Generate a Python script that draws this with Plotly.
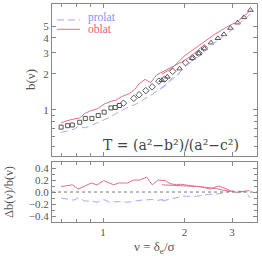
import plotly.graph_objects as go
from plotly.subplots import make_subplots

# ---- data ----
sq_x = [0.70, 0.74, 0.77, 0.82, 0.86, 0.91, 0.96, 1.01, 1.07, 1.11, 1.15]
sq_y = [0.72, 0.74, 0.75, 0.79, 0.85, 0.85, 0.90, 0.96, 1.04, 1.05, 1.09]

dm_x = [1.19, 1.30, 1.36, 1.44, 1.52, 1.61, 1.69, 1.81, 2.02, 2.14, 2.26, 2.37]
dm_y = [1.14, 1.25, 1.34, 1.45, 1.56, 1.74, 1.81, 2.10, 2.48, 2.73, 2.97, 3.29]

tr_x = [1.65, 1.73, 1.92, 2.14, 2.26, 2.37, 2.51, 2.66, 2.80, 2.96, 3.14, 3.32, 3.51]
tr_y = [1.77, 1.89, 2.21, 2.70, 2.95, 3.25, 3.64, 3.96, 4.27, 4.82, 5.34, 5.92, 6.81]

ob_a_x = [0.70, 0.73, 0.78, 0.82, 0.86, 0.90, 0.95, 1.01, 1.08, 1.12, 1.17, 1.25, 1.31,
          1.36, 1.43, 1.50, 1.58, 1.70, 1.81, 1.95, 2.10, 2.26, 2.37]
ob_a_y = [0.78, 0.81, 0.84, 0.86, 0.94, 0.985, 1.02, 1.12, 1.19, 1.21, 1.29, 1.37, 1.48,
          1.65, 1.80, 1.69, 1.96, 2.13, 2.30, 2.51, 2.77, 3.22, 3.50]
ob_b_x = [1.65, 1.79, 2.00, 2.12, 2.34, 2.58, 2.86, 3.16, 3.51]
ob_b_y = [1.99, 2.21, 2.82, 3.10, 3.62, 4.25, 4.90, 5.50, 6.75]

pr_a_x = [0.70, 0.74, 0.78, 0.81, 0.86, 0.90, 0.95, 1.00, 1.06, 1.12, 1.21, 1.30, 1.37,
          1.44, 1.52, 1.61, 1.69, 1.81, 1.92]
pr_a_y = [0.65, 0.67, 0.69, 0.73, 0.71, 0.74, 0.78, 0.82, 0.87, 0.935, 1.03, 1.10, 1.16,
          1.26, 1.35, 1.48, 1.57, 1.86, 2.02]
pr_b_x = [1.64, 1.84, 2.03, 2.24, 2.47, 2.73, 2.98, 3.24, 3.51]
pr_b_y = [1.52, 1.87, 2.33, 2.76, 3.38, 3.98, 4.60, 5.40, 6.30]

dr_a_x = [0.70, 0.77, 0.81, 0.86, 0.905, 0.95, 1.006, 1.095, 1.14, 1.23, 1.30, 1.37, 1.45,
          1.52, 1.58, 1.60, 1.70, 1.77, 1.875, 1.93, 2.16, 2.42, 2.60, 2.75, 2.95]
dr_a_y = [0.09, 0.12, 0.05, 0.10, 0.15, 0.12, 0.19, 0.12, 0.15, 0.15, 0.20, 0.20, 0.25,
          0.12, 0.18, 0.20, 0.19, 0.14, 0.12, 0.13, 0.10, 0.08, 0.06, 0.035, 0.01]
dr_b_x = [1.65, 1.98, 2.29, 2.49, 2.67, 2.83, 2.99, 3.13, 3.31, 3.48]
dr_b_y = [0.12, 0.10, 0.09, 0.05, 0.10, 0.06, 0.01, -0.005, 0.01, 0.025]

dp_a_x = [0.70, 0.746, 0.78, 0.81, 0.86, 0.905, 0.95, 1.006, 1.06, 1.14, 1.23, 1.32, 1.39,
          1.52, 1.58, 1.67]
dp_a_y = [-0.10, -0.115, -0.135, -0.10, -0.15, -0.15, -0.17, -0.125, -0.17, -0.16, -0.17,
          -0.15, -0.135, -0.125, -0.14, -0.125]
dp_b_x = [1.65, 1.77, 1.98, 2.22, 2.45, 2.64, 2.83, 3.04, 3.26, 3.40, 3.50]
dp_b_y = [-0.15, -0.115, -0.07, -0.07, -0.04, -0.035, -0.01, 0.025, 0.01, -0.02, -0.10]

legend_names = ["prolat", "oblat"]

x_tickvals = [1, 2, 3]
x_minor = [0.7, 0.8, 0.9]
y_tickvals = [1, 2, 3, 4, 5]
y_minor = [0.5, 0.6, 0.7, 0.8, 0.9]
y2_tickvals = [-0.4, -0.2, 0.0, 0.2, 0.4]
y2_ticktext = ["\u22120.4", "\u22120.2", "0.0", "0.2", "0.4"]

RED = "#e0708a"
BLUE = "#a8a8ff"
RED_T = "#e0607e"
BLUE_T = "#8c8cff"
DASH = "7px,4px"
MK = "#555555"
AX = "#888888"
TXT = "#555555"
FONT = "Liberation Serif"

fig = make_subplots(rows=2, cols=1, shared_xaxes=True, vertical_spacing=0.0,
                    row_heights=[0.72, 0.28])

fig.add_trace(go.Scatter(x=sq_x, y=sq_y, mode="markers",
                         marker=dict(symbol="square-open", size=4, color=MK, line=dict(width=1))),
              row=1, col=1)
fig.add_trace(go.Scatter(x=dm_x, y=dm_y, mode="markers",
                         marker=dict(symbol="diamond-open", size=5, color=MK, line=dict(width=1))),
              row=1, col=1)
fig.add_trace(go.Scatter(x=tr_x, y=tr_y, mode="markers",
                         marker=dict(symbol="triangle-up-open", size=5, color=MK, line=dict(width=1))),
              row=1, col=1)

for xs, ys in [(pr_a_x, pr_a_y), (pr_b_x, pr_b_y)]:
    fig.add_trace(go.Scatter(x=xs, y=ys, mode="lines", name=legend_names[0],
                             line=dict(color=BLUE, width=1, dash=DASH)), row=1, col=1)
for xs, ys in [(ob_a_x, ob_a_y), (ob_b_x, ob_b_y)]:
    fig.add_trace(go.Scatter(x=xs, y=ys, mode="lines", name=legend_names[1],
                             line=dict(color=RED, width=1)), row=1, col=1)
for xs, ys in [(dp_a_x, dp_a_y), (dp_b_x, dp_b_y)]:
    fig.add_trace(go.Scatter(x=xs, y=ys, mode="lines",
                             line=dict(color=BLUE, width=1, dash=DASH)), row=2, col=1)
for xs, ys in [(dr_a_x, dr_a_y), (dr_b_x, dr_b_y)]:
    fig.add_trace(go.Scatter(x=xs, y=ys, mode="lines",
                             line=dict(color=RED, width=1)), row=2, col=1)

fig.add_hline(y=0, line=dict(color="#777777", width=1, dash="dot"), row=2, col=1)

common = dict(showline=True, linecolor=AX, linewidth=1, mirror="allticks", ticks="inside",
              ticklen=4, tickcolor=AX, showgrid=False, zeroline=False, automargin=False,
              tickfont=dict(family=FONT, size=11, color=TXT))

xr = [-0.1886, 0.5695]
fig.update_xaxes(type="log", range=xr, tickvals=x_tickvals, ticktext=["1", "2", "3"],
                 minor=dict(tickvals=x_minor, ticklen=3, tickcolor=AX, ticks="inside"),
                 **common)
fig.update_xaxes(showticklabels=False, row=1, col=1)

fig.update_yaxes(type="log", range=[-0.3833, 0.8833], tickvals=y_tickvals,
                 ticktext=["1", "2", "3", "4", "5"],
                 minor=dict(tickvals=y_minor, ticklen=3, tickcolor=AX, ticks="inside"),
                 row=1, col=1, **common)
fig.update_yaxes(range=[-0.5, 0.5], tickvals=y2_tickvals, ticktext=y2_ticktext,
                 minor=dict(dtick=0.1, ticklen=3, tickcolor=AX, ticks="inside"),
                 row=2, col=1, **common)

fig.update_layout(
    width=262, height=262,
    margin=dict(l=52, r=5, t=4, b=40),
    plot_bgcolor="white", paper_bgcolor="white",
    font=dict(family=FONT, size=11, color=TXT),
    showlegend=False,
    hovermode=False,
    yaxis=dict(domain=[0.3028, 1.0]),
    yaxis2=dict(domain=[0.0, 0.275]),
)

# legend (drawn as keys + labels in paper space)
for (ly, ty, col, tcol, dash, name) in [(0.927, 0.938, BLUE, BLUE_T, DASH, legend_names[0]),
                                         (0.884, 0.886, RED, RED_T, "solid", legend_names[1])]:
    fig.add_shape(type="line", xref="paper", yref="paper", x0=0.0244, x1=0.1366, y0=ly, y1=ly,
                  line=dict(color=col, width=1, dash=dash))
    fig.add_annotation(text=name, xref="paper", yref="paper", x=0.1659, y=ty, xanchor="left",
                       yanchor="middle", showarrow=False,
                       font=dict(family=FONT, size=11.5, color=tcol))

# axis titles
fig.add_annotation(text="b(\u03bd)", xref="paper", yref="paper", x=0, y=0.651,
                   xshift=-22, textangle=-90, showarrow=False, xanchor="center", yanchor="middle",
                   font=dict(family=FONT, size=13, color=TXT))
fig.add_annotation(text="\u0394b(\u03bd)/b(\u03bd)", xref="paper", yref="paper", x=0, y=0.1376,
                   xshift=-43, textangle=-90, showarrow=False, xanchor="center", yanchor="middle",
                   font=dict(family=FONT, size=12.5, color=TXT))
fig.add_annotation(text="\u03bd = \u03b4<sub>e</sub>/\u03c3", xref="paper", yref="paper", x=0.5,
                   y=-0.119, showarrow=False, xanchor="center", yanchor="middle",
                   font=dict(family=FONT, size=13, color=TXT))

fig.add_annotation(text="T = (a\u00b2\u2212b\u00b2)/(a\u00b2\u2212c\u00b2)", xref="x domain", yref="y domain",
                   x=0.58, y=0.07, xanchor="center", yanchor="middle", showarrow=False,
                   font=dict(family="DejaVu Serif", size=14, color="#444444"))

fig.write_html("out.html", config={"displayModeBar": False},
               post_script="document.body.style.margin='0';document.body.style.overflow='hidden';")
